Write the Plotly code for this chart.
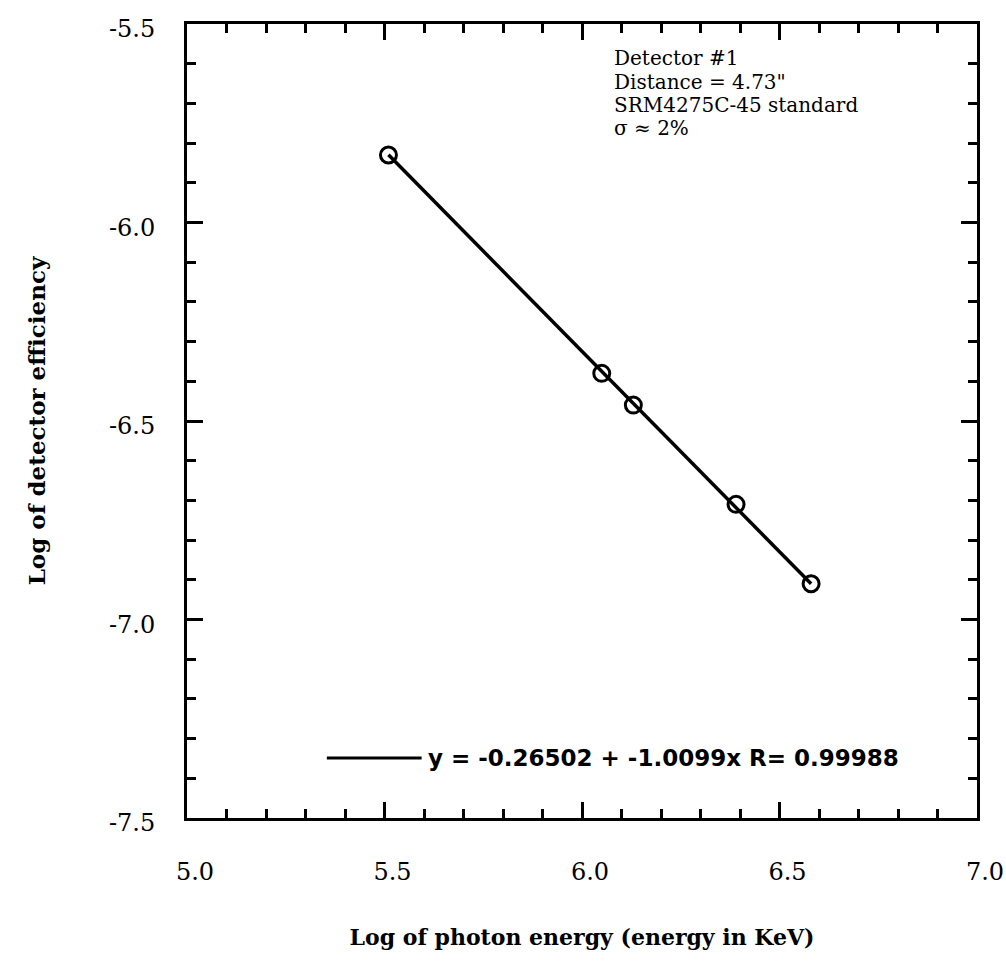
import plotly.graph_objects as go

# Measured calibration points: log10 photon energy vs log10 detector efficiency
log_energy = [5.51, 6.05, 6.13, 6.39, 6.58]
log_efficiency = [-5.83, -6.38, -6.46, -6.71, -6.91]

# Linear fit reported for the calibration
fit_intercept = -0.26502
fit_slope = -1.0099
fit_r = 0.99988

x_tick_vals = [5.0, 5.5, 6.0, 6.5, 7.0]
x_tick_text = ["5.0", "5.5", "6.0", "6.5", "7.0"]
y_tick_vals = [-7.5, -7.0, -6.5, -6.0, -5.5]
y_tick_text = ["-7.5", "-7.0", "-6.5", "-6.0", "-5.5"]

info_lines = ["Detector #1", "Distance = 4.73\"", "SRM4275C-45 standard", "\u03c3 \u2248 2%"]

fit_x = [min(log_energy), max(log_energy)]
fit_y = [fit_intercept + fit_slope * v for v in fit_x]

fig = go.Figure()
fig.add_trace(go.Scatter(
    x=fit_x, y=fit_y, mode="lines",
    line=dict(color="black", width=3.5),
    showlegend=False, hoverinfo="skip",
))
fig.add_trace(go.Scatter(
    x=log_energy, y=log_efficiency, mode="markers",
    marker=dict(symbol="circle-open", size=16, color="black", line=dict(width=3, color="black")),
    showlegend=False,
))

# Legend sample line and fit equation
fig.add_shape(type="line", xref="paper", yref="paper",
              x0=0.177, x1=0.297, y0=0.0756, y1=0.0756,
              line=dict(color="black", width=3))
fig.add_annotation(
    xref="paper", yref="paper", x=0.303, y=0.0756, xanchor="left", yanchor="middle",
    text=f"y = {fit_intercept} + {fit_slope}x R= {fit_r}", showarrow=False,
    font=dict(family="DejaVu Sans", size=23, color="black", weight="bold"),
)

# Measurement conditions block
for i, line in enumerate(info_lines):
    fig.add_annotation(
        xref="paper", yref="paper", x=0.538, y=(818 - 58 - 23.5 * i) / 794,
        xanchor="left", yanchor="middle", text=line, showarrow=False,
        font=dict(family="DejaVu Serif", size=20, color="black"),
    )

axis_common = dict(
    showgrid=False, zeroline=False, showline=True, linecolor="black", linewidth=3,
    mirror="ticks", ticks="inside", ticklen=16, tickwidth=2.5, tickcolor="black",
    tickfont=dict(family="DejaVu Serif", size=24, color="black"),
    minor=dict(dtick=0.1, ticks="inside", ticklen=9, tickwidth=2.5, tickcolor="black", showgrid=False),
)

fig.update_xaxes(
    range=[5.0, 7.0], tickvals=x_tick_vals, ticktext=x_tick_text,
    ticklabelstandoff=30, ticklabelshift=8,
    title=dict(text="Log of photon energy (energy in KeV)", standoff=45,
               font=dict(family="DejaVu Serif", size=22, color="black", weight="bold")),
    **axis_common,
)
fig.update_yaxes(
    range=[-7.5, -5.5], tickvals=y_tick_vals, ticktext=y_tick_text,
    ticklabelstandoff=24, ticklabelshift=5,
    title=dict(text="Log of detector efficiency", standoff=57,
               font=dict(family="DejaVu Serif", size=23, color="black", weight="bold")),
    **axis_common,
)

fig.update_layout(
    width=1006, height=965,
    margin=dict(l=187, r=29, t=24, b=147, autoexpand=False),
    paper_bgcolor="white", plot_bgcolor="white",
    showlegend=False,
)

fig.write_html("out.html")
